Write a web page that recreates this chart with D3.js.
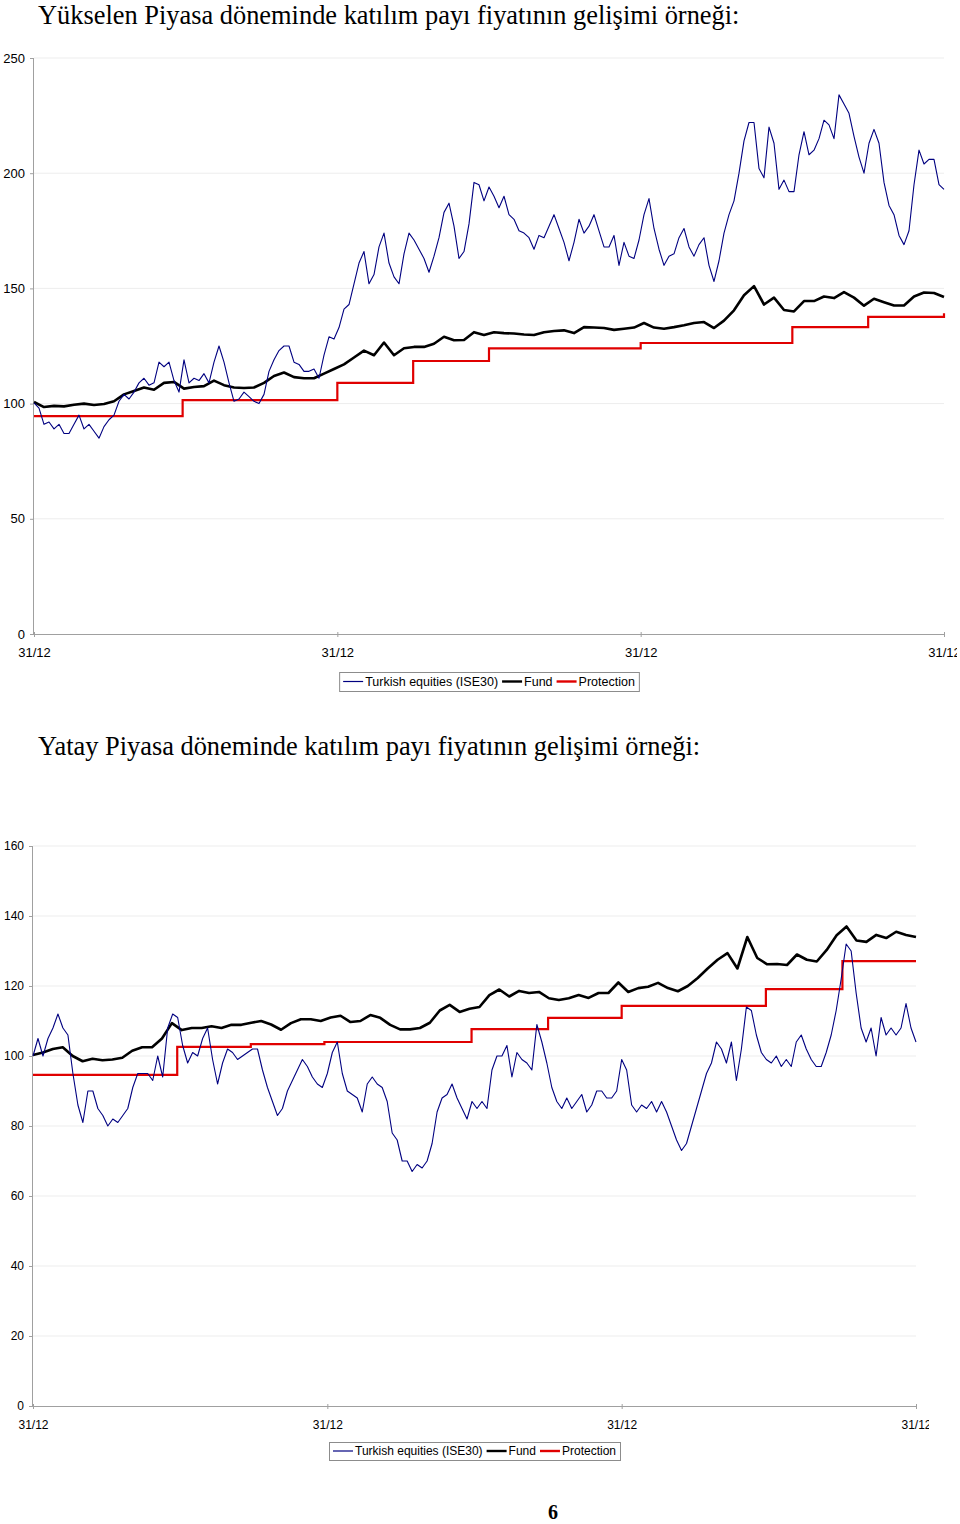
<!DOCTYPE html>
<html><head><meta charset="utf-8">
<script src="https://cdn.jsdelivr.net/npm/d3@7"></script>
<style>
body{margin:0;background:#fff;}
svg{display:block;}
</style></head><body>
<svg id="c" width="960" height="1524"></svg>
<script>
// ---------- DATA ----------
const title1 = "Yükselen Piyasa döneminde katılım payı fiyatının gelişimi örneği:";
const title2 = "Yatay Piyasa döneminde katılım payı fiyatının gelişimi örneği:";
const pageNumber = "6";
const seriesNames = ["Turkish equities (ISE30)", "Fund", "Protection"];
const xTickYears = [0, 1, 2, 3];
const xTickLabels = ["31/12", "31/12", "31/12", "31/12"];
const yTicks1 = [0, 50, 100, 150, 200, 250];
const yTicks2 = [0, 20, 40, 60, 80, 100, 120, 140, 160];

// Chart 1 (rising market) – values evenly spaced over 3 years
const equities1 = [100.3,98,91,92,89,91,87,87,91,95,
89,91,88,85,90,93,95,101,104,102,
105,109,111,108,109,118,116,118,110,105,
119,109,111,110,113,109,118,125,118,109,
101,102,105,103,101,100,104,114,119,123,
125,125,118,117,114,114,115,111,121,129,
128,133,141,143,152,161,166,152,156,168,
174,161,155,152,165,174,171,167,163,157,
164,172,183,187,177,163,166,178,196,195,
188,194,190,185,190,182,180,175,174,172,
167,173,172,177,182,176,170,162,170,180,
174,177,182,175,168,168,173,160,170,164,
163,171,182,189,176,167,160,164,165,172,
176,168,164,169,172,160,153,162,174,182,
188,200,214,222,222,202,198,220,213,193,
197,192,192,208,218,208,210,215,223,221,
215,234,230,226,216,207,200,213,219,213,
196,186,182,173,169,175,195,210,204,206,
206,195,193];
const fund1 = [100.7,98.5,99,98.8,99.5,100,99.4,99.8,101,104,
105.5,107,106,109,109.4,106.5,107.2,107.6,110,108,
107,106.8,107,109,112,113.5,111.5,111,111,113,
115,117,120,123,121,126.5,121,124,124.6,124.6,
126,129,127.5,127.6,131,129.8,131,130.6,130.4,130,
129.8,131,131.5,131.8,130.6,133.2,133,132.8,132,132.5,
133,135,133,132.5,133.2,134,135,135.4,132.8,136,
140.5,147,151,143,146,140.6,140,144.5,144.5,146.5,
145.8,148.4,146,142.5,145.5,144,142.6,142.6,146.5,148.2,
148,146.3];
const protectionYears1 = [0, 0.49, 1, 1.25, 1.5, 2, 2.5, 2.75, 3];
const protectionValues1 = [94.6, 101.5, 109, 118.5, 124, 126.3, 133.2, 137.6, 139.2];

// Chart 2 (flat market)
const equities2 = [100,105,100,105,108,112,108,106,95,86,
81,90,90,85,83,80,82,81,83,85,
91,95,95,95,93,100,94,108,112,111,
103,98,101,100,105,108,99,92,98,102,
101,99,100,101,102,102,96,91,87,83,
85,90,93,96,99,97,94,92,91,95,
101,104,95,90,89,88,84,92,94,92,
91,87,78,76,70,70,67,69,68,70,
75,84,88,89,92,88,85,82,87,85,
87,85,96,100,100,103,94,101,99,98,
96,109,104,98,91,87,85,88,85,87,
89,84,86,90,90,88,88,90,99,96,
86,84,86,85,87,84,87,84,80,76,
73,75,80,85,90,95,98,104,102,98,
104,93,102,114,113,106,101,99,98,100,
97,99,97,104,106,102,99,97,97,101,
106,113,122,132,130,118,108,104,108,100,
111,106,108,106,108,115,108,104];
const fund2 = [100.3,101,102,102.5,100,98.5,99.2,98.8,99,99.5,
101.5,102.5,102.5,105,109.4,107.4,108,108,108.5,108,
108.9,108.9,109.5,110,109,107.5,109.4,110.5,110.5,110,
111,111.5,109.7,110,111.7,110.9,108.9,107.6,107.6,108,
109.5,113,114.6,112.6,113.5,114,117.4,119,117,118.6,
118,118.3,116.5,116,116.5,117.4,116.6,118,118,121,
118.3,119.4,119.8,120.9,119.4,118.5,120,122.3,125,127.5,
129.4,125,134,128,126.2,126.3,126,129,127.5,127,
130.3,134.5,137,133,132.6,134.6,133.7,135.5,134.6,134];
const protectionYears2 = [0, 0.49, 0.74, 0.99, 1.49, 1.75, 2.0, 2.49, 2.75, 3];
const protectionValues2 = [94.6, 102.6, 103.4, 104, 107.7, 110.9, 114.3, 119.1, 127.1, 127.1];

// ---------- STYLE ----------
const colors = ["#000080", "#000000", "#e00000"];
const widths = [1.1, 2.6, 2.2];
const axisColor = "#a0a0a0";
const gridColor = "#ededed";

const svg = d3.select("#c");
const defs = svg.append("defs");

function evenly(values) {
  const n = values.length;
  return values.map((v, i) => ({ t: i / (n - 1) * 3, v }));
}
function paired(ts, vs) { return ts.map((t, i) => ({ t, v: vs[i] })); }

function drawChart(cfg) {
  const g = svg.append("g");
  const x = d3.scaleLinear().domain([0, 3]).range([cfg.left, cfg.right]);
  const y = d3.scaleLinear().domain([0, cfg.yMax]).range([cfg.bottom, cfg.top]);

  defs.append("clipPath").attr("id", cfg.id + "clip").append("rect")
    .attr("x", 0).attr("y", 0).attr("width", cfg.clipX).attr("height", 1524);

  // gridlines
  g.append("g").selectAll("line").data(cfg.yTicks.filter(d => d > 0)).join("line")
    .attr("x1", cfg.left).attr("x2", cfg.right)
    .attr("y1", d => y(d)).attr("y2", d => y(d))
    .attr("stroke", gridColor).attr("stroke-width", 1);

  // y axis
  const ya = g.append("g").attr("transform", `translate(${cfg.left},0)`)
    .call(d3.axisLeft(y).tickValues(cfg.yTicks).tickSize(4).tickPadding(5).tickFormat(d3.format("d")));
  ya.select(".domain").attr("stroke", axisColor).attr("d", `M-0.5,${cfg.top}V${cfg.bottom}`);
  ya.selectAll(".tick line").attr("stroke", axisColor);
  ya.selectAll("text").attr("font-family", "Liberation Sans, Arial, sans-serif")
    .attr("font-size", cfg.fs).attr("fill", "#000");

  // x axis
  const xwrap = g.append("g").attr("clip-path", `url(#${cfg.id}clip)`);
  const xa = xwrap.append("g").attr("transform", `translate(0,${cfg.bottom})`)
    .call(d3.axisBottom(x).tickValues(xTickYears).tickSize(3).tickPadding(cfg.xPad)
      .tickFormat((d, i) => xTickLabels[i]));
  xa.select(".domain").attr("stroke", axisColor).attr("d", `M${cfg.left},0.5H${cfg.right}`);
  xa.selectAll(".tick line").attr("stroke", axisColor).attr("y1", -2);
  xa.selectAll("text").attr("font-family", "Liberation Sans, Arial, sans-serif")
    .attr("font-size", cfg.fs).attr("fill", "#000");

  const line = d3.line().x(d => x(d.t)).y(d => y(d.v)).curve(d3.curveLinear);
  const stepLine = d3.line().x(d => x(d.t)).y(d => y(d.v)).curve(d3.curveStepAfter);

  g.append("path").datum(paired(cfg.protT, cfg.protV)).attr("d", stepLine)
    .attr("fill", "none").attr("stroke", colors[2]).attr("stroke-width", widths[2]);
  g.append("path").datum(evenly(cfg.fund)).attr("d", line)
    .attr("fill", "none").attr("stroke", colors[1]).attr("stroke-width", widths[1])
    .attr("stroke-linejoin", "round");
  g.append("path").datum(evenly(cfg.eq)).attr("d", line)
    .attr("fill", "none").attr("stroke", colors[0]).attr("stroke-width", widths[0])
    .attr("stroke-linejoin", "round");

  // legend
  const lg = g.append("g");
  const box = lg.append("rect").attr("fill", "#fff").attr("stroke", "#8c8c8c").attr("stroke-width", 1);
  let cx = 4;
  const items = lg.append("g");
  seriesNames.forEach((name, i) => {
    items.append("line").attr("x1", cx).attr("x2", cx + 20).attr("y1", 0).attr("y2", 0)
      .attr("stroke", colors[i]).attr("stroke-width", i === 0 ? 1.2 : 2.4);
    cx += 22;
    const t = items.append("text").attr("x", cx).attr("y", 0).attr("dy", "0.35em")
      .attr("font-family", "Liberation Sans, Arial, sans-serif").attr("font-size", cfg.legFs)
      .text(name);
    cx += t.node().getComputedTextLength() + 4;
  });
  const w = cx;
  const mid = (cfg.left + cfg.right) / 2;
  const lx = mid - w / 2;
  lg.attr("transform", `translate(${lx},${cfg.legY})`);
  box.attr("x", 0.5).attr("y", -cfg.legH / 2 + 0.5).attr("width", w).attr("height", cfg.legH);
}

// titles
svg.append("text").attr("x", 38).attr("y", 24)
  .attr("font-family", "Liberation Serif, Times New Roman, serif").attr("font-size", 26.4)
  .text(title1);
svg.append("text").attr("x", 38).attr("y", 755)
  .attr("font-family", "Liberation Serif, Times New Roman, serif").attr("font-size", 26.4)
  .text(title2);

drawChart({ id: "c1", left: 34, right: 944, top: 58, bottom: 634, yMax: 250, yTicks: yTicks1,
  eq: equities1, fund: fund1, protT: protectionYears1, protV: protectionValues1,
  fs: 13, legFs: 12.5, legY: 681.5, legH: 19, xPad: 11, clipX: 957 });

drawChart({ id: "c2", left: 33, right: 916, top: 846, bottom: 1406, yMax: 160, yTicks: yTicks2,
  eq: equities2, fund: fund2, protT: protectionYears2, protV: protectionValues2,
  fs: 12, legFs: 12, legY: 1451, legH: 18, xPad: 11, clipX: 929 });

svg.append("text").attr("x", 553).attr("y", 1519).attr("text-anchor", "middle")
  .attr("font-family", "Liberation Serif, Times New Roman, serif").attr("font-size", 20)
  .attr("font-weight", "bold").text(pageNumber);
</script>
</body></html>
